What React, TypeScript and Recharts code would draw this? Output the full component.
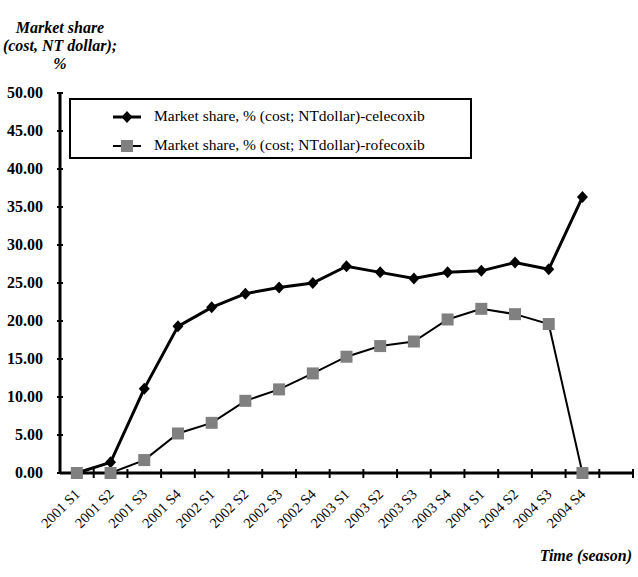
import { Line, LineChart, XAxis, YAxis } from 'recharts';

const seasons = [
  '2001 S1', '2001 S2', '2001 S3', '2001 S4',
  '2002 S1', '2002 S2', '2002 S3', '2002 S4',
  '2003 S1', '2003 S2', '2003 S3', '2003 S4',
  '2004 S1', '2004 S2', '2004 S3', '2004 S4',
  '',
];

const celecoxib = [0, 1.4, 11.1, 19.3, 21.8, 23.6, 24.4, 25.0, 27.2, 26.4, 25.6, 26.4, 26.6, 27.7, 26.8, 36.3, null];
const rofecoxib = [0, 0, 1.7, 5.2, 6.6, 9.5, 11.0, 13.1, 15.3, 16.7, 17.3, 20.2, 21.6, 20.9, 19.6, 0, null];

const yTicks = [0, 5, 10, 15, 20, 25, 30, 35, 40, 45, 50];

const CELE_NAME = 'Market share, % (cost; NTdollar)-celecoxib';
const ROFE_NAME = 'Market share, % (cost; NTdollar)-rofecoxib';

const FONT = "'Liberation Serif', Times, serif";

const CHART_W = 638;
const CHART_H = 577;
const Y_AXIS_W = 60;
const MARGIN_R = 5;
const PLOT_W = CHART_W - Y_AXIS_W - MARGIN_R;

const data = seasons.map((s, i) => ({ season: s, cele: celecoxib[i], rofe: rofecoxib[i] }));

const Diamond = (props: any) => {
  const { cx, cy } = props;
  if (cx == null || cy == null || props.value == null) return null;
  return <polygon points={`${cx},${cy - 6} ${cx + 5.5},${cy} ${cx},${cy + 6} ${cx - 5.5},${cy}`} fill="#000" />;
};

const Square = (props: any) => {
  const { cx, cy } = props;
  if (cx == null || cy == null || props.value == null) return null;
  return <rect x={cx - 6} y={cy - 6} width={12} height={12} fill="#808080" />;
};

// tick mark sits on the right edge of each band, label is rotated under the band centre
const XTick = (props: any) => {
  const { x, y, payload } = props;
  const half = payload?.offset > 0 ? payload.offset : PLOT_W / seasons.length / 2;
  const tx = x + half;
  return (
    <g>
      <line x1={tx} x2={tx} y1={y - 4} y2={y + 5} stroke="#000" strokeWidth={2} />
      {payload.value !== '' && (
        <text
          x={x + 4}
          y={y + 22}
          textAnchor="end"
          transform={`rotate(-45, ${x + 4}, ${y + 22})`}
          fontFamily={FONT}
          fontSize={14.5}
          fill="#000"
        >
          {payload.value}
        </text>
      )}
    </g>
  );
};

const YTick = (props: any) => {
  const { x, y, payload } = props;
  return (
    <g>
      <line x1={x - 3} x2={x + 3} y1={y} y2={y} stroke="#000" strokeWidth={2} />
      <text x={x - 17} y={y + 5} textAnchor="end" fontFamily={FONT} fontSize={16} fontWeight="bold" fill="#000">
        {Number(payload.value).toFixed(2)}
      </text>
    </g>
  );
};

const LegendBox = () => (
  <div
    style={{
      position: 'absolute',
      left: 69,
      top: 98,
      width: 403,
      height: 61,
      boxSizing: 'border-box',
      border: '2px solid #000',
      background: '#fff',
      fontFamily: FONT,
      fontSize: 15.5,
    }}
  >
    <svg width={40} height={56} style={{ position: 'absolute', left: 40, top: 0 }}>
      <line x1={2} x2={30} y1={17} y2={17} stroke="#000" strokeWidth={3} />
      <polygon points="16,11 21.5,17 16,23 10.5,17" fill="#000" />
      <line x1={2} x2={30} y1={46} y2={46} stroke="#000" strokeWidth={2} />
      <rect x={10} y={40} width={12} height={12} fill="#808080" />
    </svg>
    <div style={{ position: 'absolute', left: 83, top: 7, whiteSpace: 'nowrap' }}>{CELE_NAME}</div>
    <div style={{ position: 'absolute', left: 83, top: 36, whiteSpace: 'nowrap' }}>{ROFE_NAME}</div>
  </div>
);

export default function App() {
  return (
    <div style={{ position: 'absolute', left: 0, top: 0, width: CHART_W, height: CHART_H, background: '#fff' }}>
      <LineChart
        width={CHART_W}
        height={CHART_H}
        data={data}
        margin={{ top: 93, right: MARGIN_R, bottom: 0, left: 0 }}
      >
        <XAxis
          dataKey="season"
          scale="band"
          height={104}
          interval={0}
          tick={<XTick />}
          tickLine={false}
          tickSize={0}
          tickMargin={0}
          axisLine={{ stroke: '#000', strokeWidth: 3 }}
        />
        <YAxis
          width={Y_AXIS_W}
          domain={[0, 50]}
          ticks={yTicks}
          interval={0}
          tick={<YTick />}
          tickLine={false}
          tickSize={0}
          tickMargin={0}
          axisLine={{ stroke: '#000', strokeWidth: 3 }}
        />
        <Line
          dataKey="cele"
          name={CELE_NAME}
          stroke="#000"
          strokeWidth={3}
          dot={<Diamond />}
          activeDot={false}
          isAnimationActive={false}
        />
        <Line
          dataKey="rofe"
          name={ROFE_NAME}
          stroke="#000"
          strokeWidth={2}
          dot={<Square />}
          activeDot={false}
          isAnimationActive={false}
        />
      </LineChart>
      <LegendBox />
      <div
        style={{
          position: 'absolute',
          left: 0,
          top: 19,
          width: 120,
          textAlign: 'center',
          fontFamily: FONT,
          fontSize: 16,
          fontWeight: 'bold',
          fontStyle: 'italic',
          lineHeight: '18px',
        }}
      >
        Market share
        <br />
        (cost, NT dollar);
        <br />%
      </div>
      <div
        style={{
          position: 'absolute',
          right: 6,
          top: 547,
          fontFamily: FONT,
          fontSize: 16,
          fontWeight: 'bold',
          fontStyle: 'italic',
        }}
      >
        Time (season)
      </div>
    </div>
  );
}
